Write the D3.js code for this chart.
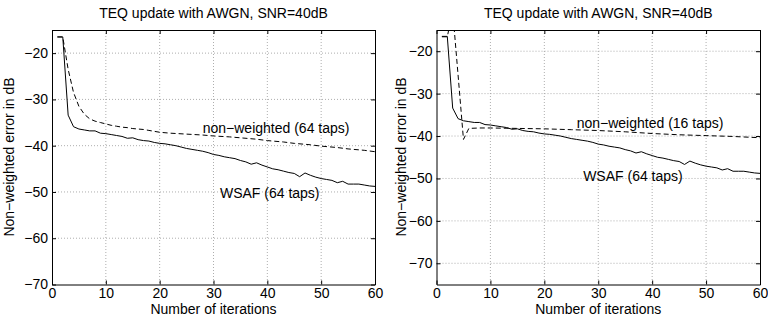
<!DOCTYPE html>
<html>
<head>
<meta charset="utf-8">
<script src="https://cdn.jsdelivr.net/npm/d3@7"></script>
<style>
  body { margin: 0; background: #fff; }
  svg { display: block; }
  text { font-family: "Liberation Sans", Arial, sans-serif; fill: #000; }
</style>
</head>
<body>
<div id="chart"></div>
<script>
const width = 768
const height = 322

// iterations 1..60
const iterations = d3.range(1, 61)

// WSAF (64 taps), same curve in both panels
const wsaf = [-16.5, -16.5, -33.4, -35.9, -36.4, -36.6, -36.8, -36.8, -37.3, -37.4,
  -37.6, -37.8, -38.0, -38.4, -38.3, -38.7, -38.9, -39.0, -39.3, -39.5,
  -39.6, -39.8, -40.0, -40.3, -40.6, -40.8, -41.0, -41.2, -41.5, -41.9,
  -42.1, -42.4, -42.6, -42.8, -43.2, -43.5, -44.0, -43.7, -44.2, -44.6,
  -45.0, -45.2, -45.5, -45.8, -46.0, -46.7, -45.9, -46.4, -46.8, -47.1,
  -47.3, -47.5, -48.0, -47.7, -48.3, -48.3, -48.3, -48.5, -48.7, -48.8]

// non-weighted (64 taps)
const nw64Iter = [1, 2, 3, 4, 5, 6, 7, 8, 9, 10, 11, 12, 13, 14, 15, 16, 17, 18, 19, 20,
  22, 25, 28, 30, 33, 35, 38, 40, 43, 45, 48, 50, 53, 55, 58, 60]
const nw64 = [-16.5, -16.5, -23.5, -28.5, -31.5, -33.2, -34.2, -34.7, -35.0, -35.3,
  -35.6, -35.8, -36.0, -36.1, -36.3, -36.4, -36.5, -36.7, -36.9, -37.1,
  -37.3, -37.5, -37.7, -37.9, -38.1, -38.3, -38.6, -38.9, -39.2, -39.5,
  -39.8, -40.1, -40.4, -40.7, -41.0, -41.3]

// non-weighted (16 taps)
const nw16Iter = [1, 2, 3, 4, 5, 6, 8, 10, 15, 20, 25, 30, 35, 40, 45, 50, 55, 60]
const nw16 = [-16.6, -16.6, -10.5, -25.6, -40.8, -38.2, -38.1, -38.1, -38.2, -38.3,
  -38.5, -38.7, -39.0, -39.4, -39.7, -39.9, -40.1, -40.4]

const xTicks = [0, 10, 20, 30, 40, 50, 60]
const yTicksLeft = [-70, -60, -50, -40, -30, -20]
const yTicksRight = [-70, -60, -50, -40, -30, -20]

const titleText = "TEQ update with AWGN, SNR=40dB"
const xLabel = "Number of iterations"
const yLabel = "Non\u2212weighted error in dB"

const svg = d3.select("#chart")
  .append("svg")
  .attr("width", width)
  .attr("height", height)

function fmt(d) { return d < 0 ? "\u2212" + Math.abs(d) : String(d) }

function drawPanel(opts) {
  const x = d3.scaleLinear().domain([0, 60]).range([opts.left, opts.right])
  const y = d3.scaleLinear().domain(opts.yDomain).range([284.5, 30])
  const g = svg.append("g")
  const clipId = "clip" + opts.id

  g.append("clipPath").attr("id", clipId)
    .append("rect")
    .attr("x", opts.left).attr("y", 30)
    .attr("width", opts.right - opts.left).attr("height", 254.5)

  // dotted grid
  g.selectAll(".gx").data(xTicks.slice(1, -1)).join("line")
    .attr("x1", d => x(d)).attr("x2", d => x(d))
    .attr("y1", 30).attr("y2", 284.5)
    .attr("stroke", "#999").attr("stroke-width", 0.8)
    .attr("stroke-dasharray", "1,2")
  g.selectAll(".gy").data(opts.yTicks.filter(d => d > opts.yDomain[0])).join("line")
    .attr("x1", opts.left).attr("x2", opts.right)
    .attr("y1", d => y(d)).attr("y2", d => y(d))
    .attr("stroke", "#999").attr("stroke-width", 0.8)
    .attr("stroke-dasharray", "1,2")

  // axes with inward ticks
  const axB = d3.axisBottom(x).tickValues(xTicks).tickSizeInner(-4).tickSizeOuter(0).tickPadding(4).tickFormat(fmt)
  const axT = d3.axisTop(x).tickValues(xTicks).tickSizeInner(-4).tickSizeOuter(0).tickFormat("")
  const axL = d3.axisLeft(y).tickValues(opts.yTicks).tickSizeInner(-4).tickSizeOuter(0).tickPadding(4).tickFormat(fmt)
  const axR = d3.axisRight(y).tickValues(opts.yTicks).tickSizeInner(-4).tickSizeOuter(0).tickFormat("")

  function style(sel) {
    sel.selectAll("path").attr("stroke", "#000")
    sel.selectAll("line").attr("stroke", "#000")
    sel.selectAll("text").attr("font-size", 14).attr("fill", "#000")
      .style("font-family", "'Liberation Sans', Arial, sans-serif")
  }
  g.append("g").attr("transform", `translate(0,284.5)`).call(axB).call(style)
  g.append("g").attr("transform", `translate(0,30)`).call(axT).call(style)
  g.append("g").attr("transform", `translate(${opts.left},0)`).call(axL).call(style)
  g.append("g").attr("transform", `translate(${opts.right},0)`).call(axR).call(style)

  const line = d3.line().x(d => x(d[0])).y(d => y(d[1]))
  const plot = g.append("g").attr("clip-path", `url(#${clipId})`)

  plot.append("path")
    .datum(opts.dashIter.map((t, i) => [t, opts.dashVals[i]]))
    .attr("d", line).attr("fill", "none")
    .attr("stroke", "#000").attr("stroke-width", 1)
    .attr("stroke-dasharray", "5,3")
  plot.append("path")
    .datum(iterations.map((t, i) => [t, wsaf[i]]))
    .attr("d", line).attr("fill", "none")
    .attr("stroke", "#000").attr("stroke-width", 1)

  // titles and labels
  const cx = (opts.left + opts.right) / 2
  g.append("text").attr("x", cx).attr("y", 18)
    .attr("text-anchor", "middle").attr("font-size", 14).text(titleText)
  g.append("text").attr("x", cx).attr("y", 314)
    .attr("text-anchor", "middle").attr("font-size", 14).text(xLabel)
  g.append("text")
    .attr("transform", `translate(${opts.yLabelX},157) rotate(-90)`)
    .attr("text-anchor", "middle").attr("font-size", 14).text(yLabel)

  // curve annotations
  opts.notes.forEach(n => {
    g.append("text").attr("x", x(n.at[0])).attr("y", y(n.at[1]))
      .attr("dy", "0.35em").attr("font-size", 14).text(n.text)
  })
}

drawPanel({
  id: "L", left: 52, right: 375, yDomain: [-70, -15], yTicks: yTicksLeft,
  dashIter: nw64Iter, dashVals: nw64, yLabelX: 14,
  notes: [
    { at: [28, -36.1], text: "non\u2212weighted (64 taps)" },
    { at: [31.2, -50.2], text: "WSAF (64 taps)" }
  ]
})

drawPanel({
  id: "R", left: 436.5, right: 760, yDomain: [-75, -15], yTicks: yTicksRight,
  dashIter: nw16Iter, dashVals: nw16, yLabelX: 406,
  notes: [
    { at: [26, -36.9], text: "non\u2212weighted (16 taps)" },
    { at: [27.2, -49.4], text: "WSAF (64 taps)" }
  ]
})
</script>
</body>
</html>
